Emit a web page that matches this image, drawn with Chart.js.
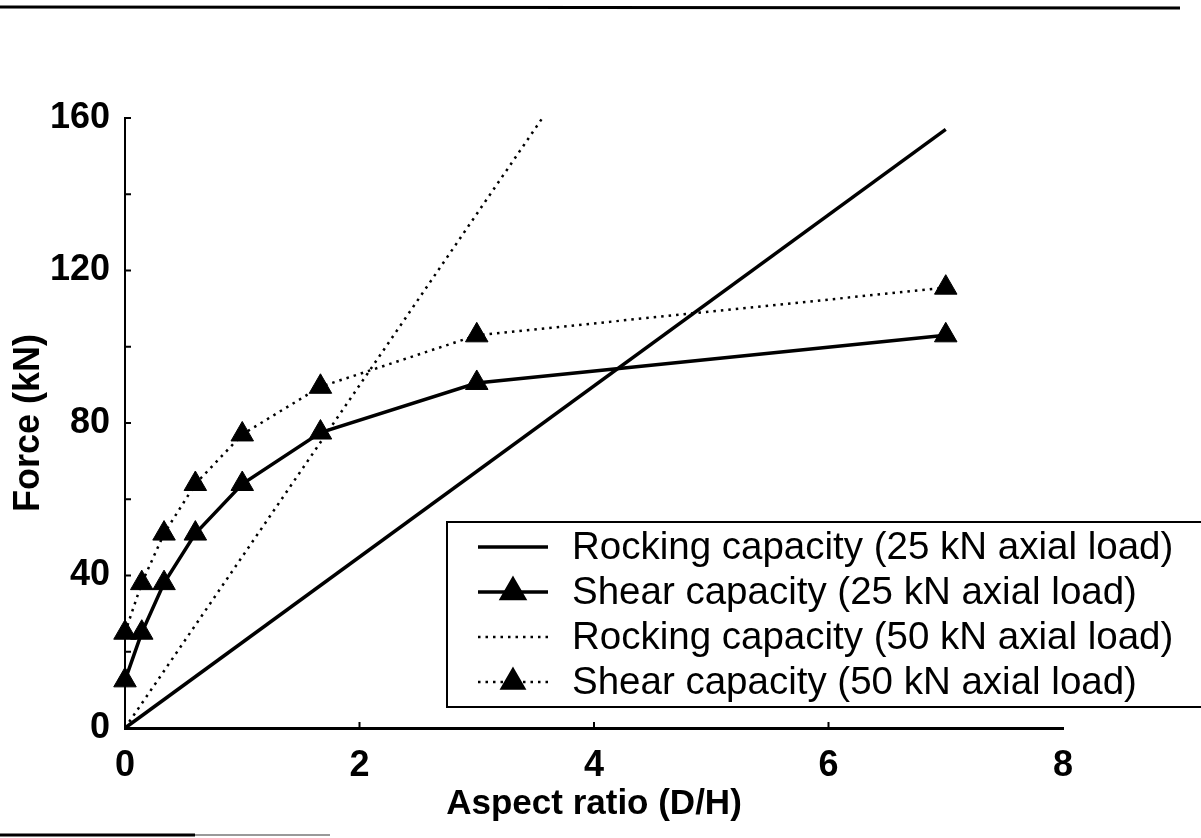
<!DOCTYPE html>
<html>
<head>
<meta charset="utf-8">
<script src="https://cdn.jsdelivr.net/npm/chart.js@4/dist/chart.umd.min.js"></script>
<style>
  html, body { margin: 0; padding: 0; background: #fff; }
  #wrap { width: 1201px; height: 838px; }
</style>
</head>
<body>
<div id="wrap"><canvas id="chart" width="1201" height="838"></canvas></div>
<script>
// values
const aspectRatio = [0, 0.143, 0.333, 0.6, 1, 1.667, 3, 7];
const shear25 = [12.5, 25, 38, 51, 64, 77.5, 90.5, 103];
const shear50 = [25, 38, 51, 64, 77, 89.5, 103, 115.5];
const rocking25X = [0, 7];
const rocking25Y = [0, 157];
const rocking50X = [0, 3.56];
const rocking50Y = [0, 160];

const xTicks = [0, 2, 4, 6, 8];
const yTicks = [0, 40, 80, 120, 160];
const xTickMarks = [2, 4, 6];
const yTickMarks = [0, 20, 40, 60, 80, 100, 120, 140, 160];

const labels = [
  "Rocking capacity (25 kN axial load)",
  "Shear capacity (25 kN axial load)",
  "Rocking capacity (50 kN axial load)",
  "Shear capacity (50 kN axial load)",
];

const toPoints = (xs, ys) => xs.map((x, i) => ({ x, y: ys[i] }));

const solid = { borderColor: "#000", backgroundColor: "#000", borderWidth: 3.5 };
const dotted = { borderColor: "#000", backgroundColor: "#000", borderWidth: 2.5, borderDash: [2.5, 5] };

// page rules from the scan
const pageLines = {
  id: "pageLines",
  afterDraw(chart) {
    const ctx = chart.ctx;
    ctx.save();
    ctx.strokeStyle = "#000";
    ctx.lineWidth = 3;
    ctx.beginPath();
    ctx.moveTo(0, 7);
    ctx.lineTo(1180, 8);
    ctx.stroke();
    ctx.beginPath();
    ctx.moveTo(0, 835);
    ctx.lineTo(195, 835);
    ctx.stroke();
    ctx.strokeStyle = "#999";
    ctx.lineWidth = 2;
    ctx.beginPath();
    ctx.moveTo(195, 835);
    ctx.lineTo(330, 835);
    ctx.stroke();
    ctx.restore();
  },
};

// small inward tick marks
const tickMarks = {
  id: "tickMarks",
  afterDatasetsDraw(chart) {
    const { ctx, chartArea: a, scales: { x, y } } = chart;
    ctx.save();
    ctx.strokeStyle = "#000";
    ctx.lineWidth = 2;
    ctx.beginPath();
    yTickMarks.forEach((v) => {
      const py = y.getPixelForValue(v);
      ctx.moveTo(a.left, py);
      ctx.lineTo(a.left + 6, py);
    });
    xTickMarks.forEach((v) => {
      const px = x.getPixelForValue(v);
      ctx.moveTo(px, a.bottom);
      ctx.lineTo(px, a.bottom - 6);
    });
    ctx.stroke();
    ctx.restore();
  },
};

// boxed legend inside the plot, running off the right edge
const boxLegend = {
  id: "boxLegend",
  afterDraw(chart) {
    const ctx = chart.ctx;
    const left = 447, top = 522, bottom = 707;
    const rowY = [547, 592, 637, 682];
    ctx.save();
    ctx.fillStyle = "#fff";
    ctx.fillRect(left, top, 1201 - left + 10, bottom - top);
    ctx.strokeStyle = "#000";
    ctx.lineWidth = 2;
    ctx.strokeRect(left, top, 1201 - left + 10, bottom - top);

    chart.data.datasets.forEach((ds, i) => {
      const y = rowY[i];
      ctx.strokeStyle = ds.borderColor;
      ctx.lineWidth = ds.borderWidth;
      ctx.setLineDash(ds.borderDash || []);
      ctx.beginPath();
      ctx.moveTo(478, y);
      ctx.lineTo(548, y);
      ctx.stroke();
      ctx.setLineDash([]);
      if (ds.pointRadius > 0) {
        Chart.helpers.drawPoint(ctx, { pointStyle: "triangle", radius: ds.pointRadius, borderWidth: 1 }, 513, y);
        ctx.fillStyle = "#000";
        ctx.fill();
      }
      ctx.fillStyle = "#000";
      ctx.font = "38.5px 'Liberation Sans', Arial, sans-serif";
      ctx.textBaseline = "middle";
      ctx.textAlign = "left";
      ctx.fillText(ds.label, 572, y + 1);
    });
    ctx.restore();
  },
};

new Chart(document.getElementById("chart"), {
  type: "scatter",
  data: {
    datasets: [
      { label: labels[0], data: toPoints(rocking25X, rocking25Y), showLine: true, pointRadius: 0, ...solid, clip: false },
      { label: labels[1], data: toPoints(aspectRatio, shear25), showLine: true, pointStyle: "triangle", pointRadius: 13, pointHoverRadius: 13, ...solid, pointBorderWidth: 1, clip: false },
      { label: labels[2], data: toPoints(rocking50X, rocking50Y), showLine: true, pointRadius: 0, ...dotted, clip: false },
      { label: labels[3], data: toPoints(aspectRatio, shear50), showLine: true, pointStyle: "triangle", pointRadius: 13, pointHoverRadius: 13, ...dotted, pointBorderWidth: 1, clip: false },
    ],
  },
  options: {
    responsive: false,
    animation: false,
    layout: { padding: { top: 118, right: 138, bottom: 0, left: 0 } },
    plugins: {
      legend: { display: false },
      tooltip: { enabled: false },
    },
    scales: {
      x: {
        type: "linear",
        min: 0,
        max: 8,
        afterBuildTicks: (s) => { s.ticks = xTicks.map((v) => ({ value: v })); },
        afterFit: (s) => { s.height = 110; },
        grid: { drawOnChartArea: false, drawTicks: false },
        border: { display: true, color: "#000", width: 3 },
        ticks: {
          color: "#000",
          padding: 16,
          font: { family: "'Liberation Sans', Arial, sans-serif", size: 36, weight: "bold" },
        },
        title: {
          display: true,
          text: "Aspect ratio (D/H)",
          color: "#000",
          padding: { top: 0, bottom: 13 },
          font: { family: "'Liberation Sans', Arial, sans-serif", size: 35, weight: "bold" },
        },
      },
      y: {
        type: "linear",
        min: 0,
        max: 160,
        afterBuildTicks: (s) => { s.ticks = yTicks.map((v) => ({ value: v })); },
        afterFit: (s) => { s.width = 125; },
        grid: { drawOnChartArea: false, drawTicks: false },
        border: { display: true, color: "#000", width: 2 },
        ticks: {
          color: "#000",
          padding: 15,
          font: { family: "'Liberation Sans', Arial, sans-serif", size: 36, weight: "bold" },
        },
        title: {
          display: true,
          text: "Force (kN)",
          color: "#000",
          padding: { top: 7, bottom: 0 },
          font: { family: "'Liberation Sans', Arial, sans-serif", size: 36, weight: "bold" },
        },
      },
    },
  },
  plugins: [tickMarks, boxLegend, pageLines],
});
</script>
</body>
</html>
